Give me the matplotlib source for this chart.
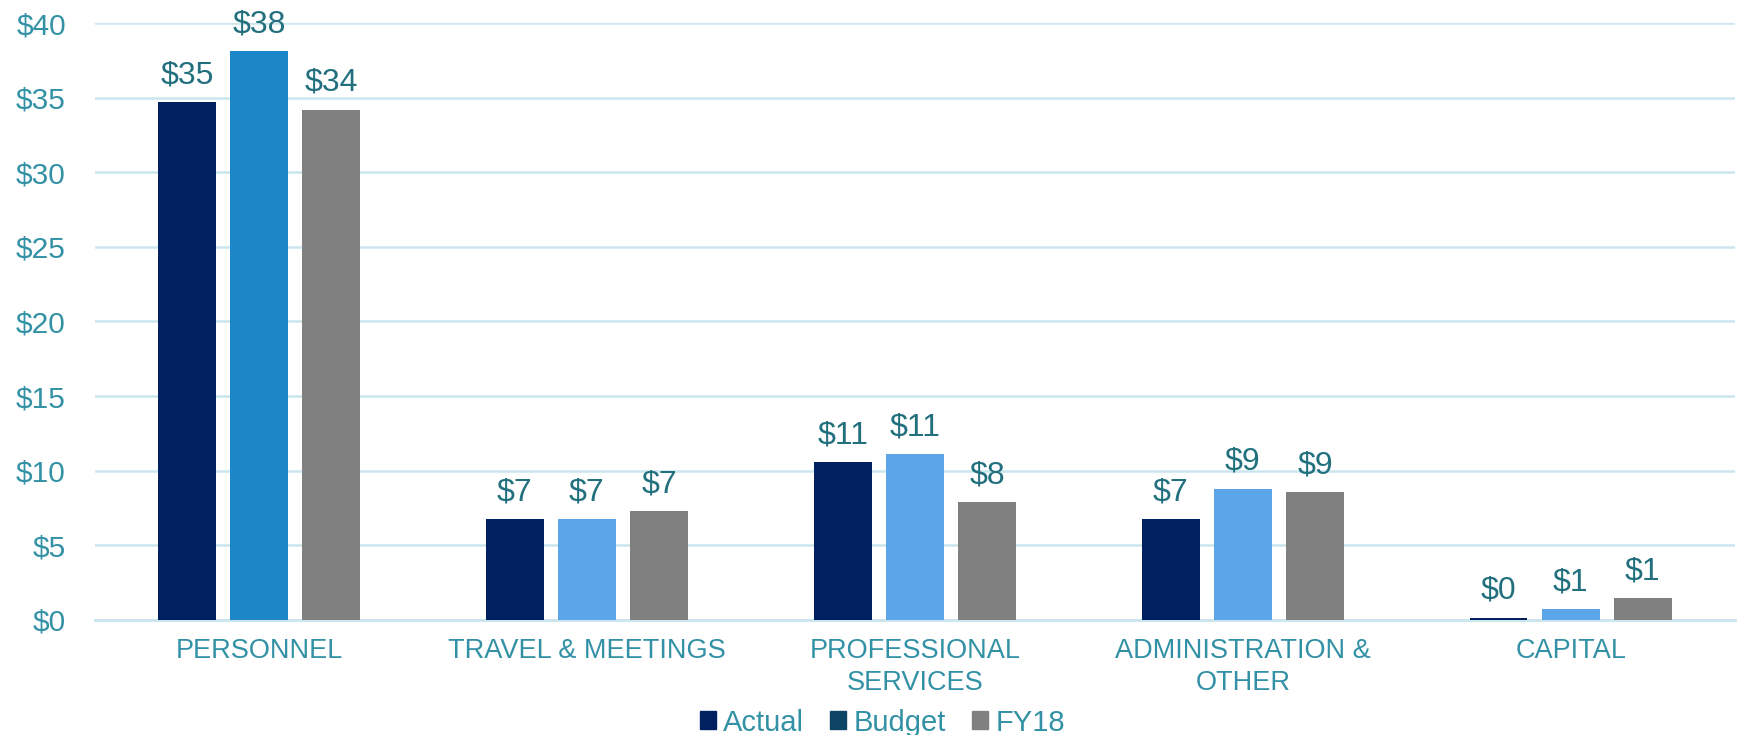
import matplotlib.pyplot as plt
from matplotlib.patches import Patch
import numpy as np

plt.rcParams['font.family'] = ['Liberation Sans', 'DejaVu Sans']

# data ($ millions)
categories = ["PERSONNEL", "TRAVEL & MEETINGS", "PROFESSIONAL\nSERVICES",
              "ADMINISTRATION &\nOTHER", "CAPITAL"]
actual = [34.7, 6.75, 10.6, 6.75, 0.15]
budget = [38.1, 6.75, 11.1, 8.8, 0.74]
fy18 = [34.2, 7.3, 7.9, 8.55, 1.48]

c_actual = "#002060"
c_budget_bars = ["#1B87C9", "#5BA6E8", "#5BA6E8", "#5BA6E8", "#5BA6E8"]
c_budget_legend = "#0E4466"
c_fy18 = "#808080"
tick_color = "#3391A6"
label_color = "#22707E"
grid_color = "#CBE6EE"

fig = plt.figure(figsize=(17.37, 7.35), dpi=100)
ax = fig.add_axes([0.0547, 0.1565, 0.944, 0.8122])

x = np.arange(len(categories))
w = 0.176
off = 0.22

series = [(actual, c_actual), (budget, c_budget_bars), (fy18, c_fy18)]
for i, (vals, col) in enumerate(series):
    bars = ax.bar(x + (i - 1) * off, vals, width=w, color=col, zorder=3)
    for b, v in zip(bars, vals):
        ax.annotate(f"${v:.0f}", (b.get_x() + b.get_width() / 2, v),
                    xytext=(0, 13.5), textcoords="offset points",
                    ha="center", va="baseline", fontsize=23, color=label_color)

ax.set_xlim(-0.5, len(categories) - 0.5)
ax.set_ylim(0, 40)
ax.set_yticks(range(0, 41, 5))
ax.set_yticklabels([f"${v}" for v in range(0, 41, 5)])
ax.set_xticks(x)
ax.set_xticklabels(categories, linespacing=1.3)

ax.tick_params(axis="y", length=0, pad=21, labelsize=21.5, labelcolor=tick_color)
ax.tick_params(axis="x", length=0, pad=13, labelsize=19.5, labelcolor=tick_color)

ax.grid(axis="y", color=grid_color, linewidth=1.8, zorder=0)
for s in ["top", "right", "left"]:
    ax.spines[s].set_visible(False)
ax.spines["bottom"].set_color(grid_color)
ax.spines["bottom"].set_linewidth(2.2)

handles = [Patch(color=c_actual, label="Actual"),
           Patch(color=c_budget_legend, label="Budget"),
           Patch(color=c_fy18, label="FY18")]
leg = fig.legend(handles=handles, loc="center", bbox_to_anchor=(0.508, 0.017),
                 ncol=3, frameon=False, fontsize=21, handlelength=0.55,
                 handleheight=0.55, handletextpad=0.25, columnspacing=0.9,
                 borderpad=0)
for t in leg.get_texts():
    t.set_color(tick_color)

fig.savefig("out.png", dpi=100)
